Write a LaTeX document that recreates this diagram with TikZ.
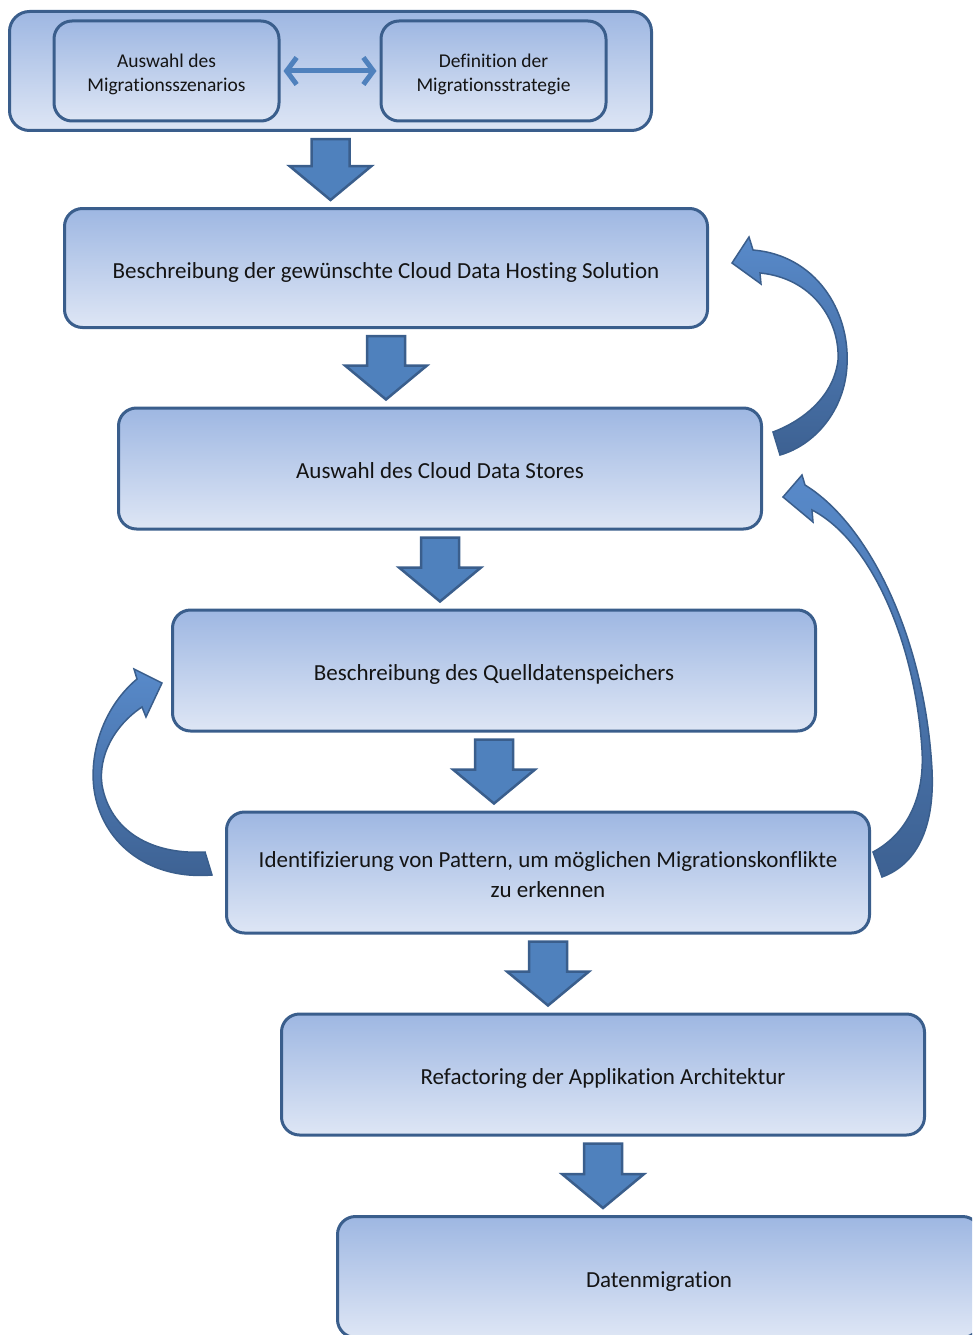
\documentclass[tikz,border=0pt]{standalone}
\usepackage{fontspec}
\setmainfont[Ligatures=NoCommon]{Carlito}
\usetikzlibrary{arrows.meta,calc}

\definecolor{edgeblue}{RGB}{58,94,140}
\definecolor{boxtop}{RGB}{158,183,226}
\definecolor{boxbot}{RGB}{222,230,245}
\definecolor{flowblue}{RGB}{79,129,189}
\definecolor{curvetop}{RGB}{88,138,202}
\definecolor{curvebot}{RGB}{61,97,146}

\tikzset{
  stagebox/.style={draw=edgeblue, line width=3pt, rounded corners=18pt,
    top color=boxtop, bottom color=boxbot, text=black!92,
    align=center, inner sep=0pt, minimum width=643pt, minimum height=121pt,
    font=\fontsize{23}{30}\selectfont},
  smallbox/.style={stagebox, minimum width=225pt, minimum height=100pt,
    font=\fontsize{19.5}{24}\selectfont},
  flowarrow/.style={fill=flowblue, draw=edgeblue, line width=2.5pt, line join=miter},
  curvearrow/.style={top color=curvetop, bottom color=curvebot, draw=edgeblue, line width=1.5pt},
  twoway/.style={draw=flowblue, line width=5pt,
    {Straight Barb[length=10pt,width=27pt]}-{Straight Barb[length=10pt,width=27pt]},
    shorten <=3pt, shorten >=3pt}
}

% box text, set a little below the geometric centre
\newcommand\lowered[1]{\raisebox{-4pt}[\height][\depth]{\begin{tabular}{@{}c@{}}#1\end{tabular}}}

% block arrow pointing down from the bottom of #1 to the top of #2
\newcommand\flowstep[2]{%
  \path[flowarrow] let \p1=(#1.south), \p2=(#2.north) in
    (\x1-19pt,\y1-7pt) -- (\x1+19pt,\y1-7pt) -- (\x1+19pt,\y2+41pt) --
    (\x1+41pt,\y2+41pt) -- (\x1,\y2+7pt) -- (\x1-41pt,\y2+41pt) --
    (\x1-19pt,\y2+41pt) -- cycle;}

\begin{document}
\begin{tikzpicture}[x=1pt, y=-1pt]
\useasboundingbox (0,0) rectangle (972,1335);
\clip (0,0) rectangle (972,1335);

% preparation stage with its two sub-steps
\node[stagebox, minimum width=642pt, minimum height=119pt, rounded corners=20pt] (prep) at (330.5,71) {};
\node[smallbox] (scen) at (166.5,71) {\lowered{Auswahl des\\Migrationsszenarios}};
\node[smallbox] (strat) at (493.5,71) {\lowered{Definition der\\Migrationsstrategie}};
\draw[twoway] (scen.east) -- (strat.west);

% main process steps
\node[stagebox, minimum height=119pt] (host) at (386,268) {\lowered{Beschreibung der gewünschte Cloud Data Hosting Solution}};
\node[stagebox] (store) at (440,468.5) {\lowered{Auswahl des Cloud Data Stores}};
\node[stagebox] (source) at (494,670.5) {\lowered{Beschreibung des Quelldatenspeichers}};
\node[stagebox] (pattern) at (548,872.5) {\lowered{Identifizierung von Pattern, um möglichen Migrationskonflikte\\zu erkennen}};
\node[stagebox] (refac) at (603,1074.5) {\lowered{Refactoring der Applikation Architektur}};
\node[stagebox] (migr) at (659,1277) {\lowered{Datenmigration}};

\flowstep{prep}{host}
\flowstep{host}{store}
\flowstep{store}{source}
\flowstep{source}{pattern}
\flowstep{pattern}{refac}
\flowstep{refac}{migr}

% feedback: data store selection back to hosting solution
\path[curvearrow] (753,250) .. controls (815,255) and (850,310) .. (847,365)
  .. controls (845,410) and (815,445) .. (780,455) -- (773,432)
  .. controls (805,420) and (834,395) .. (838,360)
  .. controls (840,320) and (812,278) .. (760,273)
  -- (761,284) -- (732,263) -- (749,237) -- cycle;

% feedback: pattern identification back to data store selection
\path[curvearrow] (805,485) .. controls (870,525) and (925,640) .. (932,770)
  .. controls (935,830) and (915,865) .. (882,877) -- (873,852)
  .. controls (905,835) and (925,800) .. (922,750)
  .. controls (915,640) and (870,540) .. (812,510)
  -- (813,522) -- (783,497) -- (802,475) -- cycle;

% feedback: pattern identification back to source description
\path[curvearrow] (137,679) .. controls (100,710) and (88,760) .. (95,795)
  .. controls (105,845) and (150,880) .. (212,875) -- (205,852)
  .. controls (150,855) and (110,830) .. (102,785)
  .. controls (98,755) and (115,725) .. (142,707)
  -- (146,717) -- (162,683) -- (134,669) -- cycle;
\end{tikzpicture}
\end{document}
